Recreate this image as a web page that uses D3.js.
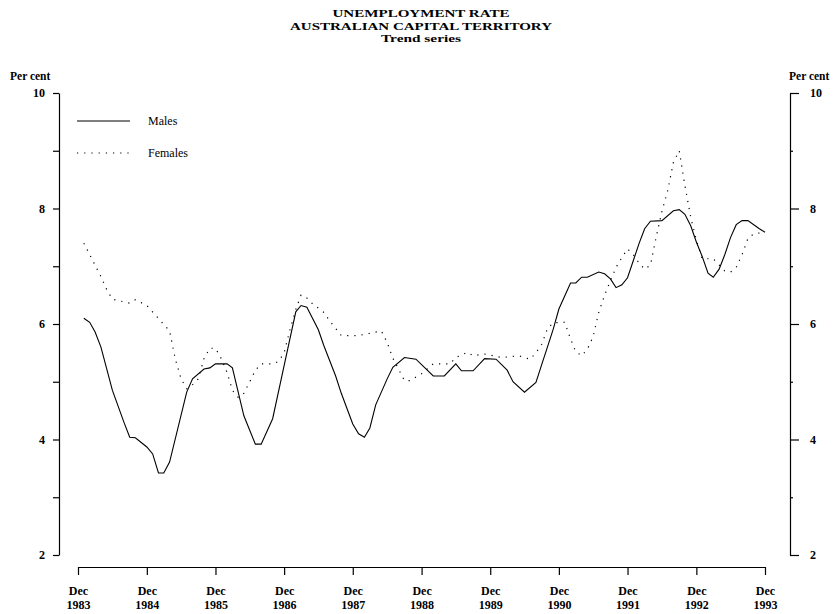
<!DOCTYPE html>
<html>
<head>
<meta charset="utf-8">
<script src="https://cdn.jsdelivr.net/npm/d3@7"></script>
<style>
  body { margin: 0; background: #fff; }
  text { font-family: "Liberation Serif", "Times New Roman", serif; fill: #000; }
</style>
</head>
<body>
<div id="chart"></div>
<script>
// basic dimensions
var width = 838;
var height = 614;

// DATA (month, per cent)
var maleMonths = ["1984-01","1984-02","1984-03","1984-04","1984-06","1984-08","1984-09","1984-10","1984-12",
  "1985-01","1985-02","1985-03","1985-04","1985-07","1985-08","1985-10","1985-11","1985-12",
  "1986-02","1986-03","1986-05","1986-07","1986-08","1986-10","1986-12",
  "1987-02","1987-03","1987-04","1987-06","1987-07","1987-09","1987-10","1987-12",
  "1988-01","1988-02","1988-03","1988-04","1988-06","1988-07","1988-09","1988-11",
  "1989-02","1989-04","1989-06","1989-07","1989-09","1989-11",
  "1990-01","1990-03","1990-04","1990-06","1990-08","1990-09","1990-10","1990-11","1990-12",
  "1991-02","1991-03","1991-04","1991-05","1991-07","1991-08","1991-09","1991-10","1991-11","1991-12",
  "1992-01","1992-02","1992-03","1992-04","1992-06","1992-08","1992-09","1992-10","1992-11","1992-12",
  "1993-01","1993-02","1993-03","1993-04","1993-05","1993-06","1993-07","1993-08","1993-09","1993-11","1993-12"];
var maleValues = [6.10,6.03,5.86,5.60,4.85,4.30,4.04,4.03,3.87,
  3.75,3.42,3.42,3.61,4.82,5.05,5.22,5.24,5.31,
  5.31,5.24,4.41,3.92,3.92,4.36,5.28,
  6.21,6.32,6.29,5.90,5.62,5.10,4.80,4.27,
  4.10,4.04,4.20,4.60,5.05,5.25,5.42,5.39,
  5.10,5.10,5.31,5.19,5.19,5.40,
  5.39,5.20,5.00,4.82,4.99,5.30,5.60,5.91,6.26,
  6.71,6.71,6.81,6.81,6.90,6.87,6.78,6.63,6.68,6.80,
  7.10,7.40,7.65,7.78,7.79,7.96,7.98,7.90,7.70,7.42,
  7.17,6.88,6.81,6.95,7.20,7.50,7.72,7.79,7.79,7.65,7.59];

var femaleMonths = ["1984-01","1984-04","1984-05","1984-06","1984-09","1984-10","1984-12",
  "1985-04","1985-05","1985-06","1985-07","1985-08","1985-09","1985-10","1985-11","1985-12",
  "1986-01","1986-02","1986-03","1986-04","1986-05","1986-06","1986-07","1986-08","1986-10","1986-11","1986-12",
  "1987-01","1987-02","1987-03","1987-04","1987-05","1987-07","1987-08","1987-10",
  "1988-01","1988-05","1988-06","1988-07","1988-09","1988-10","1988-12",
  "1989-02","1989-05","1989-06","1989-08","1989-09","1989-11",
  "1990-02","1990-05","1990-07","1990-08","1990-09","1990-10","1990-11",
  "1991-01","1991-02","1991-03","1991-04","1991-05","1991-06","1991-07","1991-08","1991-09","1991-10","1991-11","1991-12",
  "1992-01","1992-02","1992-03","1992-04","1992-05","1992-06","1992-07","1992-08","1992-09","1992-10","1992-11","1992-12",
  "1993-01","1993-03","1993-05","1993-06","1993-07","1993-08","1993-09","1993-10","1993-12"];
var femaleValues = [7.40,6.82,6.60,6.43,6.36,6.42,6.32,
  5.88,5.40,5.05,4.88,4.95,5.05,5.40,5.58,5.58,
  5.40,5.16,4.85,4.73,4.80,5.00,5.20,5.31,5.31,5.35,5.50,
  5.90,6.25,6.50,6.45,6.35,6.20,6.05,5.80,
  5.80,5.88,5.68,5.41,5.02,5.02,5.14,
  5.31,5.31,5.42,5.51,5.45,5.48,
  5.42,5.45,5.39,5.50,5.65,5.92,6.02,
  6.03,5.74,5.52,5.45,5.56,5.78,6.20,6.50,6.75,6.98,7.15,7.30,
  7.20,7.05,6.95,7.02,7.50,7.95,8.30,8.80,9.00,8.40,7.85,7.45,
  7.13,7.13,6.92,6.90,6.98,7.20,7.48,7.56,7.59];

var yTicks = [2, 3, 4, 5, 6, 7, 8, 9, 10];
var yLabelled = [2, 4, 6, 8, 10];
var xTickYears = [1983, 1984, 1985, 1986, 1987, 1988, 1989, 1990, 1991, 1992, 1993];
var titleLines = ["UNEMPLOYMENT RATE", "AUSTRALIAN CAPITAL TERRITORY", "Trend series"];
var seriesNames = ["Males", "Females"];

var parseMonth = d3.timeParse("%Y-%m");
function zipSeries(months, values) {
    return months.map(function(m, i) { return { date: parseMonth(m), value: values[i] }; });
}
var males = zipSeries(maleMonths, maleValues);
var females = zipSeries(femaleMonths, femaleValues);

// SCALES
var xScale = d3.scaleTime()
    .domain([new Date(1983, 11, 1), new Date(1993, 11, 1)])
    .range([78, 765]);
var yScale = d3.scaleLinear().domain([2, 10]).range([555, 93]);

var svg = d3.select("#chart")
    .append("svg")
    .attr("width", width)
    .attr("height", height);

// title
var title = svg.append("g").attr("class", "title");
var titleWidths = [177, 262, 80];
titleLines.forEach(function(t, i) {
    title.append("text")
        .attr("x", 421)
        .attr("y", 17 + i * 12.5)
        .attr("text-anchor", "middle")
        .attr("textLength", titleWidths[i])
        .attr("lengthAdjust", "spacingAndGlyphs")
        .style("font-size", "10.5px")
        .style("font-weight", "bold")
        .text(t);
});

// left axis
var leftAxis = svg.append("g")
    .attr("transform", "translate(59,0)")
    .call(d3.axisLeft(yScale).tickValues(yTicks).tickSize(6).tickSizeOuter(0)
        .tickFormat(function(d) { return yLabelled.indexOf(d) >= 0 ? d : ""; }));
leftAxis.selectAll("text")
    .attr("x", -14)
    .style("font-size", "12px")
    .style("font-weight", "bold")
    .style("font-family", "Liberation Serif, serif");

// right axis
var rightAxis = svg.append("g")
    .attr("transform", "translate(790,0)")
    .call(d3.axisRight(yScale).tickValues(yTicks).tickSize(9).tickSizeOuter(0)
        .tickFormat(function(d) { return yLabelled.indexOf(d) >= 0 ? d : ""; }));
rightAxis.selectAll(".tick line")
    .attr("x2", function(d) { return yLabelled.indexOf(d) >= 0 ? 9 : 3; });
rightAxis.selectAll("text")
    .attr("x", 20)
    .style("font-size", "12px")
    .style("font-weight", "bold")
    .style("font-family", "Liberation Serif, serif");

[leftAxis, rightAxis].forEach(function(a) {
    a.selectAll("path, line").attr("stroke", "#000").attr("stroke-width", 1.2);
});

// axis units
svg.append("text").attr("x", 10).attr("y", 80)
    .style("font-size", "11.5px").style("font-weight", "bold").text("Per cent");
svg.append("text").attr("x", 789).attr("y", 80)
    .style("font-size", "11.5px").style("font-weight", "bold").text("Per cent");

// bottom axis
var xTicks = xTickYears.map(function(y) { return new Date(y, 11, 1); });
var bottomAxis = svg.append("g")
    .attr("transform", "translate(0,567)")
    .call(d3.axisBottom(xScale).tickValues(xTicks).tickSize(8).tickSizeOuter(0)
        .tickFormat(function() { return ""; }));
bottomAxis.selectAll("path, line").attr("stroke", "#000").attr("stroke-width", 1.2);
bottomAxis.selectAll(".tick text").remove();
bottomAxis.selectAll(".tick").each(function(d) {
    var t = d3.select(this).append("text")
        .attr("text-anchor", "middle")
        .style("font-size", "12px")
        .style("font-weight", "bold")
        .style("font-family", "Liberation Serif, serif")
        .attr("fill", "#000");
    t.append("tspan").attr("x", 0).attr("y", 28).text("Dec");
    t.append("tspan").attr("x", 0).attr("y", 42).text(d.getFullYear());
});

// line generator
var lineGen = d3.line()
    .x(function(d) { return xScale(d.date); })
    .y(function(d) { return yScale(d.value); });

svg.append("path")
    .datum(males)
    .attr("d", lineGen)
    .attr("fill", "none")
    .attr("stroke", "#000")
    .attr("stroke-width", 1.1);

svg.append("path")
    .datum(females)
    .attr("d", lineGen)
    .attr("fill", "none")
    .attr("stroke", "#000")
    .attr("stroke-width", 1.2)
    .attr("stroke-dasharray", "1.2,6");

// legend
var legend = svg.append("g").attr("class", "legend");
seriesNames.forEach(function(name, i) {
    var ly = 121 + i * 32;
    legend.append("line")
        .attr("x1", 77).attr("x2", 130)
        .attr("y1", ly).attr("y2", ly)
        .attr("stroke", "#000")
        .attr("stroke-width", 1.1)
        .attr("stroke-dasharray", i === 1 ? "1.2,6" : null);
    legend.append("text")
        .attr("x", 148).attr("y", ly + 4)
        .style("font-size", "12px")
        .text(name);
});
</script>
</body>
</html>
